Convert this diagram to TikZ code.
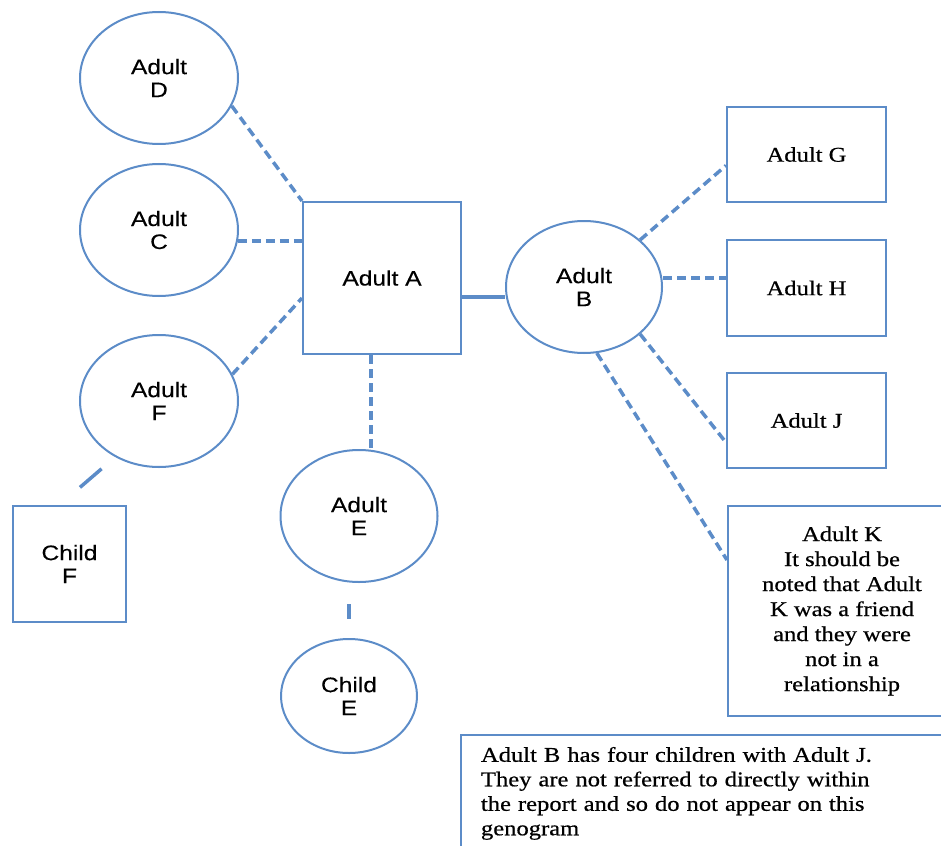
\documentclass[tikz,border=0pt]{standalone}
\usepackage{fontspec}
\setmainfont{Liberation Serif}[FakeStretch=1.17,FakeBold=0.6]
\setsansfont{Liberation Sans}[FakeStretch=1.17,FakeBold=0.25]
\usetikzlibrary{calc,shapes.geometric}
\definecolor{genoblue}{RGB}{92,140,200}
\begin{document}
\begin{tikzpicture}[x=1pt,y=-1pt,
    female/.style={ellipse,draw=genoblue,line width=2pt,fill=white,inner sep=0pt,
      minimum width=158pt,minimum height=132pt,align=center,
      font=\sffamily\fontsize{21}{23}\selectfont},
    male/.style={rectangle,draw=genoblue,line width=2pt,fill=white,align=center,
      font=\sffamily\fontsize{21}{23}\selectfont},
    textbox/.style={rectangle,draw=genoblue,line width=2pt,fill=white,align=center,
      font=\rmfamily\fontsize{21}{25}\selectfont},
    partner/.style={genoblue,line width=3.5pt,dash pattern=on 9pt off 5pt},
    marriage/.style={genoblue,line width=3.5pt},
    descent/.style={genoblue,line width=3.5pt}]
    \useasboundingbox (0,0) rectangle (941,845);
    \clip (0,0) rectangle (941,845);

    %Adult A and partners
    \node[male,minimum width=158pt,minimum height=152pt] (adA) at (382,278) {Adult A};
    \node[female] (adD) at (159,78) {Adult\\D};
    \node[female] (adC) at (159,230) {Adult\\C};
    \node[female] (adF) at (159,401) {Adult\\F};
    \node[female,minimum width=157pt] (adE) at (359,516) {Adult\\E};
    %Children
    \node[male,minimum width=113pt,minimum height=116pt] (chF) at (69.5,564) {Child\\F};
    \node[female,minimum width=136pt,minimum height=114pt] (chE) at (349,696) {Child\\E};
    %Adult B and partners
    \node[female,minimum width=156pt] (adB) at (584,287) {Adult\\B};
    \node[textbox,minimum width=159pt,minimum height=95pt] (adG) at (806.5,154.5) {Adult G};
    \node[textbox,minimum width=159pt,minimum height=96pt] (adH) at (806.5,288) {Adult H};
    \node[textbox,minimum width=159pt,minimum height=95pt] (adJ) at (806.5,420.5) {Adult J};
    \node[textbox,minimum width=228pt,minimum height=210pt] (adK) at (842,611)
      {Adult K\\It should be\\noted that Adult\\K was a friend\\and they were\\not in a\\relationship};
    %Note
    \node[textbox,anchor=north west,align=left,text width=480pt,inner xsep=20pt,inner ysep=12pt,
      font=\rmfamily\fontsize{21}{24.5}\selectfont] (note) at (460,734)
      {Adult B has four children with Adult J.\\They are not referred to directly within\\the report and so do not appear on this\\genogram};

    %Links of Adult A
    \draw[partner] (adD.-21) -- (adA.north west);
    \draw[partner] (adC.-8) -- (adC.-8 -| adA.west);
    \draw[partner] (adF.20) -- ($(adA.west)+(0,20)$);
    \coordinate (aE) at ($(adA.south)+(-11,0)$);
    \draw[partner] (aE) -- (aE |- adE.north);
    \coordinate (aB) at ($(adA.east)+(0,19)$);
    \draw[marriage] (aB) -- (aB -| adB.west);
    %Links of Adult B
    \draw[partner] (adB.40.5) -- ($(adG.west)+(0,11)$);
    \coordinate (hB) at ($(adH.west)+(0,-10)$);
    \draw[partner] (hB -| adB.east) -- (hB);
    \draw[partner] (adB.-40.6) -- ($(adJ.west)+(0,22)$);
    \draw[partner] (adB.-79) -- ($(adK.west)+(0,-51)$);
    %Children links
    \draw[descent,shorten <=27pt,shorten >=18pt] ($(chF.north)+(-10,0)$) -- (adF.232.5);
    \draw[descent,shorten <=21pt,shorten >=19pt] (chE.north |- adE.south) -- (chE.north);
\end{tikzpicture}
\end{document}
